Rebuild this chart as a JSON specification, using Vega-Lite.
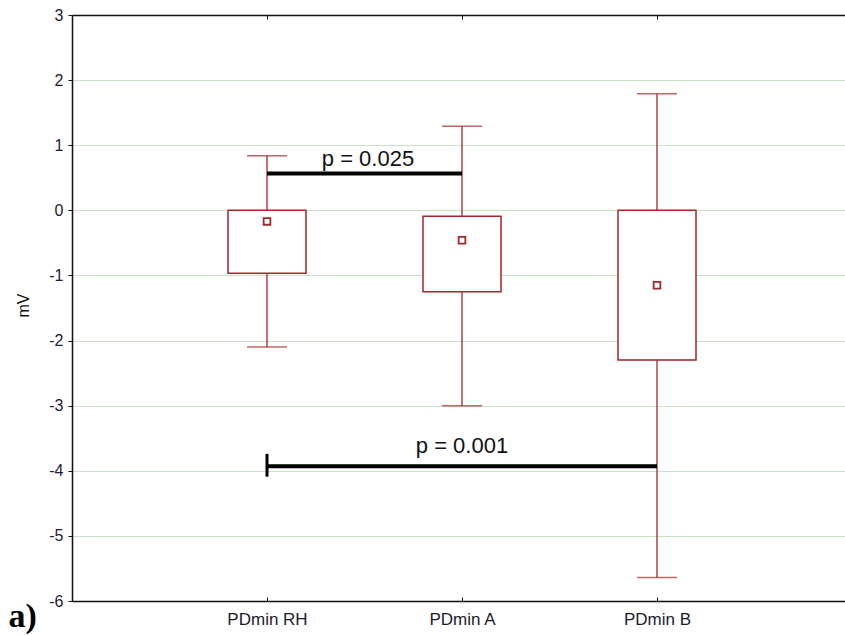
{
  "$schema": "https://vega.github.io/schema/vega-lite/v6.json",
  "autosize": {"type": "none"},
  "padding": {"left": 72, "top": 15, "right": 0, "bottom": 34},
  "width": 773,
  "height": 586,
  "background": "white",
  "config": {"view": {"stroke": null}, "font": "Liberation Sans"},
  "datasets": {
    "stats": [
      {"group": "PDmin RH", "low": -2.10, "q1": -0.965, "q3": 0.0, "high": 0.84, "mean": -0.17},
      {"group": "PDmin A", "low": -3.0, "q1": -1.25, "q3": -0.09, "high": 1.29, "mean": -0.46},
      {"group": "PDmin B", "low": -5.64, "q1": -2.30, "q3": 0.0, "high": 1.79, "mean": -1.15}
    ],
    "sig": [
      {"from": "PDmin RH", "to": "PDmin A", "y": 0.567, "label": "p = 0.025", "ty": 0.685},
      {"from": "PDmin RH", "to": "PDmin B", "y": -3.93, "label": "p = 0.001", "ty": -3.726}
    ],
    "cap": [
      {"at": "PDmin RH", "y1": -3.74, "y2": -4.09}
    ]
  },
  "encoding": {
    "y": {
      "type": "quantitative",
      "scale": {"domain": [-6, 3], "nice": false, "zero": false}
    }
  },
  "layer": [
    {
      "data": {"name": "stats"},
      "mark": {"type": "rule", "color": "#a3262a", "strokeWidth": 1.3},
      "encoding": {
        "x": {
          "field": "group", "type": "nominal", "sort": null,
          "scale": {"type": "point", "domain": ["PDmin RH", "PDmin A", "PDmin B"], "padding": 0.98205, "align": 0.50914},
          "axis": {
            "orient": "bottom", "title": "a)", "labelAngle": 0,
            "domainColor": "#111", "domainWidth": 1.5,
            "tickColor": "#111", "tickSize": -4, "tickWidth": 1,
            "labelFontSize": 17, "labelColor": "#1c1c2a", "labelPadding": 14,
            "titleFont": "Liberation Serif", "titleFontWeight": "bold", "titleFontSize": 34,
            "titleColor": "#000", "titleAnchor": "start", "titleAlign": "left",
            "titleBaseline": "alphabetic", "titleX": -64, "titleY": 25
          }
        },
        "y": {
          "field": "low", "type": "quantitative",
          "axis": {
            "title": "mV", "values": [-6, -5, -4, -3, -2, -1, 0, 1, 2, 3],
            "labelExpr": "'' + datum.value",
            "grid": true, "gridColor": "#c6e3c6", "gridWidth": 1,
            "domainColor": "#111", "domainWidth": 1.5,
            "tickColor": "#111", "tickSize": 4,
            "labelFontSize": 16, "labelColor": "#1c1c3a", "labelPadding": 5,
            "titleFontSize": 16, "titleFontWeight": "normal", "titleColor": "#111",
            "titleX": -41, "titleY": 290, "titleAngle": -90
          }
        },
        "y2": {"field": "high"}
      }
    },
    {
      "data": {"name": "stats"},
      "mark": {"type": "bar", "width": 78, "fill": "white", "stroke": "#a3262a", "strokeWidth": 1.5},
      "encoding": {
        "x": {
          "field": "group", "type": "nominal", "sort": null,
          "axis": {
            "orient": "top", "labels": false, "title": null,
            "domainColor": "#111", "domainWidth": 1.5,
            "tickColor": "#111", "tickSize": -4, "tickWidth": 1
          }
        },
        "y": {"field": "q3", "type": "quantitative"},
        "y2": {"field": "q1"}
      }
    },
    {
      "data": {"name": "stats"},
      "mark": {"type": "tick", "orient": "horizontal", "size": 40, "thickness": 1.5, "color": "#a3262a"},
      "encoding": {
        "x": {"field": "group", "type": "nominal", "sort": null, "axis": null},
        "y": {"field": "high", "type": "quantitative"}
      }
    },
    {
      "data": {"name": "stats"},
      "mark": {"type": "tick", "orient": "horizontal", "size": 40, "thickness": 1.5, "color": "#a3262a"},
      "encoding": {
        "x": {"field": "group", "type": "nominal", "sort": null, "axis": null},
        "y": {"field": "low", "type": "quantitative"}
      }
    },
    {
      "data": {"name": "stats"},
      "mark": {"type": "point", "shape": "square", "filled": false, "size": 45, "stroke": "#a3262a", "strokeWidth": 1.8, "opacity": 1},
      "encoding": {
        "x": {"field": "group", "type": "nominal", "sort": null, "axis": null},
        "y": {"field": "mean", "type": "quantitative"}
      }
    },
    {
      "data": {"name": "sig"},
      "mark": {"type": "rule", "color": "#000", "strokeWidth": 4},
      "encoding": {
        "x": {"field": "from", "type": "nominal", "axis": null},
        "x2": {"field": "to"},
        "y": {"field": "y", "type": "quantitative"}
      }
    },
    {
      "data": {"name": "cap"},
      "mark": {"type": "rule", "color": "#000", "strokeWidth": 3},
      "encoding": {
        "x": {"field": "at", "type": "nominal", "axis": null},
        "y": {"field": "y1", "type": "quantitative"},
        "y2": {"field": "y2"}
      }
    },
    {
      "data": {"name": "sig"},
      "transform": [{"filter": "datum.to == 'PDmin A'"}],
      "mark": {"type": "text", "fontSize": 22, "color": "#111", "align": "center", "baseline": "alphabetic", "dx": 101},
      "encoding": {
        "x": {"field": "from", "type": "nominal", "axis": null},
        "y": {"field": "ty", "type": "quantitative"},
        "text": {"field": "label"}
      }
    },
    {
      "data": {"name": "sig"},
      "transform": [{"filter": "datum.to == 'PDmin B'"}],
      "mark": {"type": "text", "fontSize": 22, "color": "#111", "align": "center", "baseline": "alphabetic"},
      "encoding": {
        "x": {"datum": "PDmin A", "type": "nominal", "axis": null},
        "y": {"field": "ty", "type": "quantitative"},
        "text": {"field": "label"}
      }
    }
  ],
  "resolve": {"axis": {"x": "independent"}}
}
